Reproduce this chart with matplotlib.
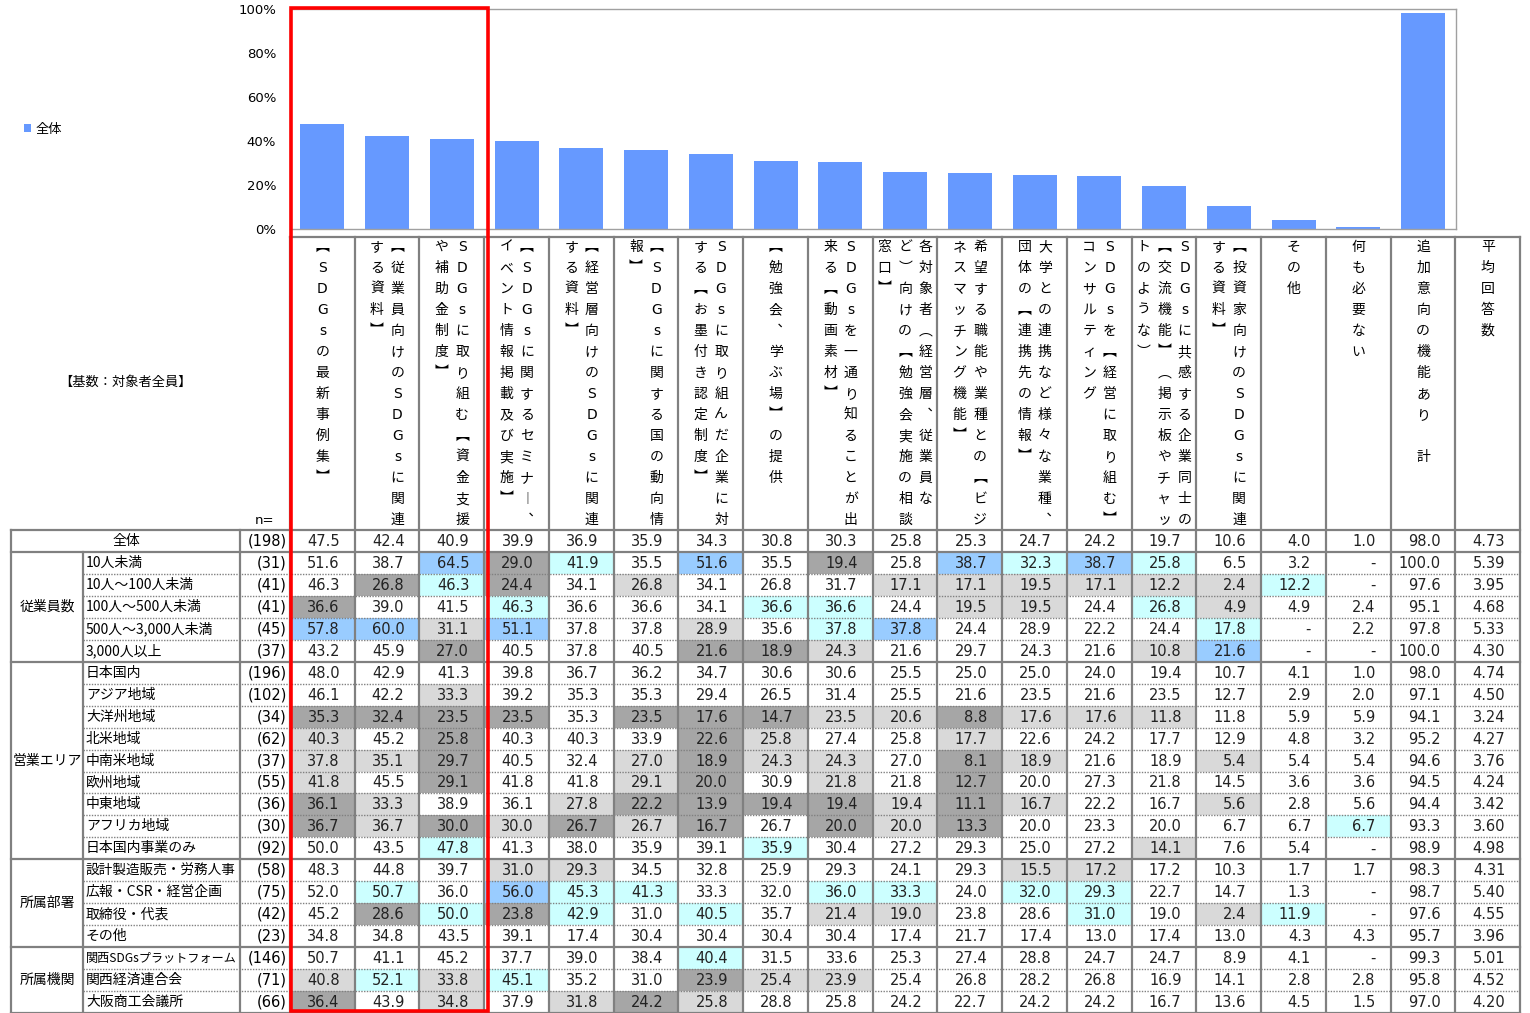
import numpy as np
import matplotlib.pyplot as plt
from matplotlib.patches import Rectangle

plt.rcParams['font.family'] = ['DejaVu Sans', 'Noto Sans CJK JP']

# ---------------------------------------------------------------
# data
# ---------------------------------------------------------------
# column headers, "\n" = next vertical line (right to left)
columns = [
    "【SDGsの最新事例集】",
    "【従業員向けのSDGsに関連\nする資料】",
    "SDGsに取り組む【資金支援\nや補助金制度】",
    "【SDGsに関するセミナー、\nイベント情報掲載及び実施】",
    "【経営層向けのSDGsに関連\nする資料】",
    "【SDGsに関する国の動向情\n報】",
    "SDGsに取り組んだ企業に対\nする【お墨付き認定制度】",
    "【勉強会、学ぶ場】の提供",
    "SDGsを一通り知ることが出\n来る【動画素材】",
    "各対象者（経営層、従業員な\nど）向けの【勉強会実施の相談\n窓口】",
    "希望する職能や業種との【ビジ\nネスマッチング機能】",
    "大学との連携など様々な業種、\n団体の【連携先の情報】",
    "SDGsを【経営に取り組む】\nコンサルティング",
    "SDGsに共感する企業同士の\n【交流機能】（掲示板やチャッ\nトのような）",
    "【投資家向けのSDGsに関連\nする資料】",
    "その他",
    "何も必要ない",
    "追加意向の機能あり　計",
    "平均回答数",
]

group_names = ["", "従業員数", "営業エリア", "所属部署", "所属機関"]
group_sizes = [1, 5, 9, 4, 3]

row_labels = [
    "全体",
    "10人未満", "10人～100人未満", "100人～500人未満", "500人～3,000人未満", "3,000人以上",
    "日本国内", "アジア地域", "大洋州地域", "北米地域", "中南米地域", "欧州地域", "中東地域",
    "アフリカ地域", "日本国内事業のみ",
    "設計製造販売・労務人事", "広報・CSR・経営企画", "取締役・代表", "その他",
    "関西SDGsプラットフォーム", "関西経済連合会", "大阪商工会議所",
]

n_values = [198, 31, 41, 41, 45, 37, 196, 102, 34, 62, 37, 55, 36, 30, 92,
            58, 75, 42, 23, 146, 71, 66]

# None = "-"
values = [
    [47.5, 42.4, 40.9, 39.9, 36.9, 35.9, 34.3, 30.8, 30.3, 25.8, 25.3, 24.7, 24.2, 19.7, 10.6, 4.0, 1.0, 98.0, 4.73],
    [51.6, 38.7, 64.5, 29.0, 41.9, 35.5, 51.6, 35.5, 19.4, 25.8, 38.7, 32.3, 38.7, 25.8, 6.5, 3.2, None, 100.0, 5.39],
    [46.3, 26.8, 46.3, 24.4, 34.1, 26.8, 34.1, 26.8, 31.7, 17.1, 17.1, 19.5, 17.1, 12.2, 2.4, 12.2, None, 97.6, 3.95],
    [36.6, 39.0, 41.5, 46.3, 36.6, 36.6, 34.1, 36.6, 36.6, 24.4, 19.5, 19.5, 24.4, 26.8, 4.9, 4.9, 2.4, 95.1, 4.68],
    [57.8, 60.0, 31.1, 51.1, 37.8, 37.8, 28.9, 35.6, 37.8, 37.8, 24.4, 28.9, 22.2, 24.4, 17.8, None, 2.2, 97.8, 5.33],
    [43.2, 45.9, 27.0, 40.5, 37.8, 40.5, 21.6, 18.9, 24.3, 21.6, 29.7, 24.3, 21.6, 10.8, 21.6, None, None, 100.0, 4.30],
    [48.0, 42.9, 41.3, 39.8, 36.7, 36.2, 34.7, 30.6, 30.6, 25.5, 25.0, 25.0, 24.0, 19.4, 10.7, 4.1, 1.0, 98.0, 4.74],
    [46.1, 42.2, 33.3, 39.2, 35.3, 35.3, 29.4, 26.5, 31.4, 25.5, 21.6, 23.5, 21.6, 23.5, 12.7, 2.9, 2.0, 97.1, 4.50],
    [35.3, 32.4, 23.5, 23.5, 35.3, 23.5, 17.6, 14.7, 23.5, 20.6, 8.8, 17.6, 17.6, 11.8, 11.8, 5.9, 5.9, 94.1, 3.24],
    [40.3, 45.2, 25.8, 40.3, 40.3, 33.9, 22.6, 25.8, 27.4, 25.8, 17.7, 22.6, 24.2, 17.7, 12.9, 4.8, 3.2, 95.2, 4.27],
    [37.8, 35.1, 29.7, 40.5, 32.4, 27.0, 18.9, 24.3, 24.3, 27.0, 8.1, 18.9, 21.6, 18.9, 5.4, 5.4, 5.4, 94.6, 3.76],
    [41.8, 45.5, 29.1, 41.8, 41.8, 29.1, 20.0, 30.9, 21.8, 21.8, 12.7, 20.0, 27.3, 21.8, 14.5, 3.6, 3.6, 94.5, 4.24],
    [36.1, 33.3, 38.9, 36.1, 27.8, 22.2, 13.9, 19.4, 19.4, 19.4, 11.1, 16.7, 22.2, 16.7, 5.6, 2.8, 5.6, 94.4, 3.42],
    [36.7, 36.7, 30.0, 30.0, 26.7, 26.7, 16.7, 26.7, 20.0, 20.0, 13.3, 20.0, 23.3, 20.0, 6.7, 6.7, 6.7, 93.3, 3.60],
    [50.0, 43.5, 47.8, 41.3, 38.0, 35.9, 39.1, 35.9, 30.4, 27.2, 29.3, 25.0, 27.2, 14.1, 7.6, 5.4, None, 98.9, 4.98],
    [48.3, 44.8, 39.7, 31.0, 29.3, 34.5, 32.8, 25.9, 29.3, 24.1, 29.3, 15.5, 17.2, 17.2, 10.3, 1.7, 1.7, 98.3, 4.31],
    [52.0, 50.7, 36.0, 56.0, 45.3, 41.3, 33.3, 32.0, 36.0, 33.3, 24.0, 32.0, 29.3, 22.7, 14.7, 1.3, None, 98.7, 5.40],
    [45.2, 28.6, 50.0, 23.8, 42.9, 31.0, 40.5, 35.7, 21.4, 19.0, 23.8, 28.6, 31.0, 19.0, 2.4, 11.9, None, 97.6, 4.55],
    [34.8, 34.8, 43.5, 39.1, 17.4, 30.4, 30.4, 30.4, 30.4, 17.4, 21.7, 17.4, 13.0, 17.4, 13.0, 4.3, 4.3, 95.7, 3.96],
    [50.7, 41.1, 45.2, 37.7, 39.0, 38.4, 40.4, 31.5, 33.6, 25.3, 27.4, 28.8, 24.7, 24.7, 8.9, 4.1, None, 99.3, 5.01],
    [40.8, 52.1, 33.8, 45.1, 35.2, 31.0, 23.9, 25.4, 23.9, 25.4, 26.8, 28.2, 26.8, 16.9, 14.1, 2.8, 2.8, 95.8, 4.52],
    [36.4, 43.9, 34.8, 37.9, 31.8, 24.2, 25.8, 28.8, 25.8, 24.2, 22.7, 24.2, 24.2, 16.7, 13.6, 4.5, 1.5, 97.0, 4.20],
]

y_ticks = [0, 20, 40, 60, 80, 100]

# ---------------------------------------------------------------
# layout (pixels)
# ---------------------------------------------------------------
W, H = 1530, 1013
x_tab = 290          # first data column
col_w = 64.75
n_col = len(columns)
n_bar = n_col - 1    # no bar for 平均回答数
y_head = 237
y_top = 530
row_h = (H - y_top) / len(row_labels)
line_c = '#808080'

BLUE = '#99ccff'
CYAN = '#ccffff'
DGRAY = '#a6a6a6'
LGRAY = '#d9d9d9'

fig = plt.figure(figsize=(W / 100, H / 100), dpi=100)

# ---------------- bar chart ----------------
ax = fig.add_axes([x_tab / W, 1 - 229 / H, n_bar * col_w / W, (229 - 9) / H])
overall = values[0][:n_bar]
bars = ax.bar(np.arange(n_bar), overall, width=0.68, color='#6699ff', label='全体')
ax.set_xlim(-0.5, n_bar - 0.5)
ax.set_ylim(0, 100)
ax.set_xticks([])
ax.set_yticks(y_ticks)
ax.set_yticklabels([f"{t}%" for t in y_ticks], fontsize=9.5)
ax.tick_params(axis='y', length=0, pad=10)
for s in ax.spines.values():
    s.set_color('#a0a0a0')
    s.set_linewidth(1)

fig.legend(handles=[bars], labels=['全体'], loc='center left',
           bbox_to_anchor=(12 / W, 1 - 129 / H), frameon=False,
           handlelength=0.55, handleheight=0.55, handletextpad=0.3,
           prop={'family': ['Noto Sans CJK JP'], 'size': 9.5})

# ---------------- table ----------------
tab = fig.add_axes([0, 0, 1, 1])
tab.set_xlim(0, W)
tab.set_ylim(H, 0)
tab.axis('off')
tab.patch.set_alpha(0)

col_left = x_tab + col_w * np.arange(n_col)
x_end = x_tab + col_w * n_col


def exact_pct(v, n):
    # undo the rounding: percentage of a whole number of respondents
    v = 0.0 if v is None else v
    return round(v * n / 100) / n * 100


# shading vs 全体 (n>=30 only, not 平均回答数)
for r in range(1, len(row_labels)):
    if n_values[r] < 30:
        continue
    for c in range(n_col - 1):
        d = exact_pct(values[r][c], n_values[r]) - exact_pct(values[0][c], n_values[0])
        color = None
        if d >= 10:
            color = BLUE
        elif d >= 5:
            color = CYAN
        elif d <= -10:
            color = DGRAY
        elif d <= -5:
            color = LGRAY
        if color:
            tab.add_patch(Rectangle((col_left[c], y_top + r * row_h), col_w, row_h,
                                    facecolor=color, edgecolor='none', zorder=1))

# header text (vertical)
vert = {'【': '︻', '】': '︼', '（': '︵', '）': '︶', 'ー': '︱', '、': '︑', '　': ' '}
for c, head in enumerate(columns):
    lines = head.split('\n')
    k = len(lines)
    xc = col_left[c] + col_w / 2
    for j, line in enumerate(lines):
        x = xc + ((k - 1) / 2 - j) * 20.5
        for i, ch in enumerate(line):
            tab.text(x, 247 + i * 21, vert.get(ch, ch), ha='center', va='center',
                     fontsize=10, zorder=3)

tab.text(265, 520, "n=", ha='center', va='center', fontsize=9.5)
tab.text(125, 382, "【基数：対象者全員】", ha='center', va='center', fontsize=9.5,
         family=['Noto Sans CJK JP'])

# row labels, n, values
r = 0
for g, size in zip(group_names, group_sizes):
    yg = y_top + (r + size / 2) * row_h
    if g:
        tab.text(47, yg, g, ha='center', va='center', fontsize=10,
                 family=['Noto Sans CJK JP'])
    r += size

label_texts = []
for r, lab in enumerate(row_labels):
    yc = y_top + (r + 0.5) * row_h
    if r == 0:
        tab.text(126, yc, lab, ha='center', va='center', fontsize=10,
                 family=['Noto Sans CJK JP'])
    else:
        label_texts.append(tab.text(86, yc, lab, ha='left', va='center', fontsize=10,
                                    family=['Noto Sans CJK JP']))
    tab.text(287, yc, f"({n_values[r]})", ha='right', va='center', fontsize=10.5)
    for c, v in enumerate(values[r]):
        if v is None:
            s = "-"
        elif c == n_col - 1:
            s = f"{v:.2f}"
        else:
            s = f"{v:.1f}"
        tab.text(col_left[c] + col_w - 15, yc + 0.5, s, ha='right', va='center',
                 fontsize=10.5, color='#222222', zorder=3)

# shrink labels that would run into the n column
renderer = fig.canvas.get_renderer()
for t in label_texts:
    w = t.get_window_extent(renderer).width
    if w > 150:
        t.set_fontsize(10 * 150 / w)

# grid lines
group_breaks = set(np.cumsum([0] + group_sizes))
for i in range(len(row_labels) + 1):
    y = y_top + i * row_h
    if i in group_breaks:
        tab.plot([11, x_end], [y, y], color=line_c, lw=1.6, zorder=2)
    else:
        tab.plot([83, x_end], [y, y], color=line_c, lw=1.0, ls=(0, (1, 1)), zorder=2)

tab.plot([x_tab, x_end], [y_head, y_head], color=line_c, lw=1.6, zorder=2)
for c in range(n_col + 1):
    x = x_tab + c * col_w
    tab.plot([x, x], [y_head, H], color=line_c, lw=1.6, zorder=2)
tab.plot([11, 11], [y_top, H], color=line_c, lw=1.6, zorder=2)
tab.plot([83, 83], [y_top + row_h, H], color=line_c, lw=1.6, zorder=2)
tab.plot([240, 240], [y_top, H], color=line_c, lw=1.6, zorder=2)

# red highlight frame
tab.add_patch(Rectangle((291.5, 7.5), 196.5, 1003, facecolor='none',
                        edgecolor='#ff0000', lw=2.6, zorder=5))

fig.savefig('out.png', dpi=100)
